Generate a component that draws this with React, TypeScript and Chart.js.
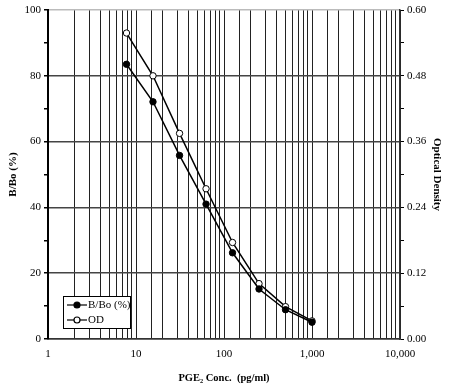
import React, { useEffect, useRef } from "react";
import { Chart, registerables } from "chart.js";

Chart.register(...registerables);

const concentrations = [7.8, 15.6, 31.25, 62.5, 125, 250, 500, 1000];
const bBoValues = [83.5, 72.1, 55.8, 41.0, 26.2, 15.2, 8.9, 5.1];
const odValues = [0.558, 0.48, 0.375, 0.274, 0.176, 0.101, 0.059, 0.033];
const seriesLabels = ["B/Bo (%)", "OD"];
const xTitle = "PGE\u2082 Conc.  (pg/ml)";
const yLeftTitle = "B/Bo (%)";
const yRightTitle = "Optical Density";

const FONT = "'Liberation Serif', 'Times New Roman', serif";

const legendPlugin = {
  id: "boxLegend",
  afterDraw(chart: any) {
    const ctx = chart.ctx;
    const ca = chart.chartArea;
    const x0 = ca.left + 15;
    const y0 = ca.bottom - 43;
    const w = 67;
    const h = 32;
    ctx.save();
    ctx.fillStyle = "#fff";
    ctx.fillRect(x0, y0, w, h);
    ctx.strokeStyle = "#000";
    ctx.lineWidth = 1;
    ctx.strokeRect(x0 + 0.5, y0 + 0.5, w, h);
    ctx.font = `11px ${FONT}`;
    ctx.textBaseline = "middle";
    chart.data.datasets.forEach((ds: any, i: number) => {
      const cy = y0 + 9 + i * 15;
      ctx.strokeStyle = "#000";
      ctx.lineWidth = 1.2;
      ctx.beginPath();
      ctx.moveTo(x0 + 4, cy);
      ctx.lineTo(x0 + 24, cy);
      ctx.stroke();
      ctx.beginPath();
      ctx.arc(x0 + 14, cy, 3, 0, Math.PI * 2);
      ctx.fillStyle = ds.pointBackgroundColor;
      ctx.fill();
      ctx.stroke();
      ctx.fillStyle = "#000";
      ctx.fillText(ds.label, x0 + 25, cy + 0.5);
    });
    ctx.restore();
  },
};

export default function App() {
  const ref = useRef<HTMLCanvasElement>(null);
  useEffect(() => {
    document.body.style.margin = "0";
    Chart.defaults.font.family = FONT;
    Chart.defaults.color = "#000";
    const chart = new Chart(ref.current!, {
      type: "line",
      data: {
        datasets: [
          {
            label: seriesLabels[0],
            data: concentrations.map((c, i) => ({ x: c, y: bBoValues[i] })),
            yAxisID: "y",
            borderColor: "#000",
            borderWidth: 1.5,
            pointBackgroundColor: "#000",
            pointBorderColor: "#000",
            pointRadius: 3.2,
            pointBorderWidth: 1,
          },
          {
            label: seriesLabels[1],
            data: concentrations.map((c, i) => ({ x: c, y: odValues[i] })),
            yAxisID: "y2",
            borderColor: "#000",
            borderWidth: 1.5,
            pointBackgroundColor: "#fff",
            pointBorderColor: "#000",
            pointRadius: 3.2,
            pointBorderWidth: 1,
          },
        ],
      },
      options: {
        animation: false,
        responsive: false,
        layout: { padding: { top: 10, right: 0, left: 0, bottom: 0 } },
        plugins: { legend: { display: false }, tooltip: { enabled: false } },
        scales: {
          x: {
            type: "logarithmic",
            min: 1,
            max: 10000,
            position: "bottom",
            afterFit: (s: any) => {
              s.height = 49;
            },
            grid: { color: "#222", lineWidth: 1, drawTicks: false },
            border: { display: true, color: "#333", width: 1.5 },
            ticks: {
              autoSkip: false,
              maxRotation: 0,
              font: { size: 11 },
              padding: 9,
              callback: (v: any) => {
                const l = Math.log10(Number(v));
                return Math.abs(l - Math.round(l)) < 1e-9
                  ? Number(v).toLocaleString("en-US")
                  : "";
              },
            },
            title: {
              display: true,
              text: xTitle,
              font: { size: 10.5, weight: "bold" },
              padding: { top: 0, bottom: 3 },
            },
          },
          y: {
            position: "left",
            min: 0,
            max: 100,
            afterFit: (s: any) => {
              s.width = 48;
            },
            grid: {
              color: (c: any) =>
                c.tick && c.tick.value % 20 !== 0
                  ? "rgba(0,0,0,0)"
                  : c.tick && c.tick.value === 100
                  ? "#bbb"
                  : "#444",
              lineWidth: 1.5,
              tickLength: 4,
              tickColor: "#000",
            },
            border: { display: true, color: "#000", width: 2 },
            ticks: {
              stepSize: 10,
              font: { size: 11 },
              padding: 3,
              callback: (v: any) => (Number(v) % 20 === 0 ? String(v) : ""),
            },
            title: {
              display: true,
              text: yLeftTitle,
              font: { size: 11, weight: "bold" },
              padding: { top: 7, bottom: 0 },
            },
          },
          y2: {
            position: "right",
            min: 0,
            max: 0.6,
            afterFit: (s: any) => {
              s.width = 50;
            },
            grid: { drawOnChartArea: false, tickLength: 4, tickColor: "#000" },
            border: { display: true, color: "#333", width: 1.5 },
            ticks: {
              stepSize: 0.06,
              font: { size: 11 },
              padding: 3,
              callback: (v: any, i: number) => (i % 2 === 0 ? Number(v).toFixed(2) : ""),
            },
            title: {
              display: true,
              text: yRightTitle,
              font: { size: 11, weight: "bold" },
              padding: { top: 7, bottom: 0 },
            },
          },
        },
      },
      plugins: [legendPlugin],
    } as any);
    return () => chart.destroy();
  }, []);
  return (
    <div style={{ position: "absolute", left: 0, top: 0, width: 450, height: 388, background: "#fff" }}>
      <canvas ref={ref} width={450} height={388} />
    </div>
  );
}
